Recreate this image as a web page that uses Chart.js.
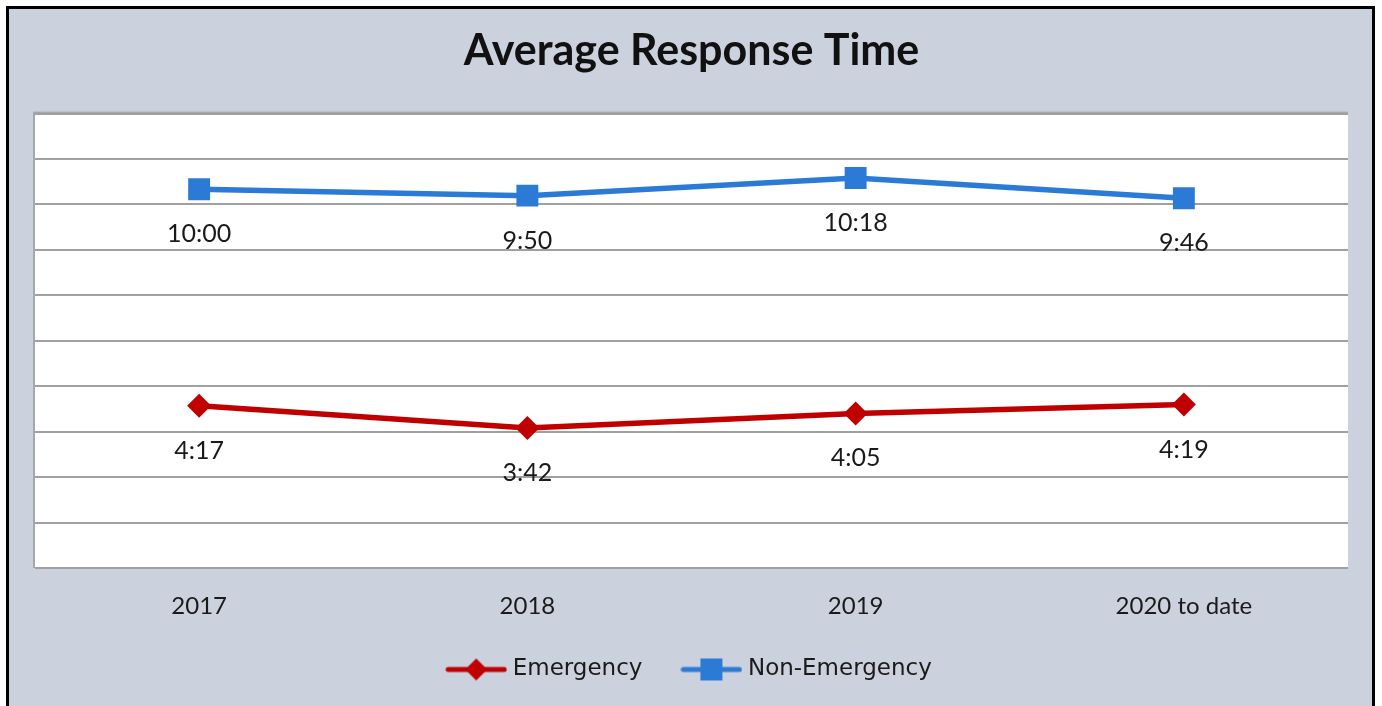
<!DOCTYPE html>
<html>
<head>
<meta charset="utf-8">
<script src="https://cdn.jsdelivr.net/npm/chart.js@4.4.1/dist/chart.umd.min.js"></script>
<style>
  html, body { margin: 0; padding: 0; background: #fff; }
  #wrap { width: 1382px; height: 706px; }
</style>
</head>
<body>
<div id="wrap"><canvas id="chart" width="1382" height="706"></canvas></div>
<script>
// values (m:ss)
const categories = ['2017', '2018', '2019', '2020 to date'];
const emergencyTimes = ['4:17', '3:42', '4:05', '4:19'];
const nonEmergencyTimes = ['10:00', '9:50', '10:18', '9:46'];
const yMin = 0;
const yMax = 720;   // 12:00
const yStep = 72;

const RED = '#c00000';
const BLUE = '#2b7bd6';
const FONT = 'Lato';

function toSeconds(t) {
    const parts = t.split(':');
    return parseInt(parts[0]) * 60 + parseInt(parts[1]);
}

// small line + marker glyph for the legend
function legendIcon(color, shape) {
    const c = document.createElement('canvas');
    c.width = 62;
    c.height = 26;
    const g = c.getContext('2d');
    g.strokeStyle = color;
    g.fillStyle = color;
    g.lineWidth = 5;
    g.lineCap = 'round';
    g.beginPath();
    g.moveTo(3, 13);
    g.lineTo(59, 13);
    g.stroke();
    g.beginPath();
    if (shape === 'diamond') {
        g.moveTo(31, 2); g.lineTo(42, 13); g.lineTo(31, 24); g.lineTo(20, 13);
    } else {
        g.rect(20, 2, 22, 22);
    }
    g.closePath();
    g.fill();
    return c;
}

const icons = [legendIcon(RED, 'diamond'), legendIcon(BLUE, 'square')];

const frame = {
    id: 'frame',
    beforeDraw(chart) {
        const ctx = chart.ctx;
        const a = chart.chartArea;
        ctx.save();
        ctx.fillStyle = '#ffffff';
        ctx.fillRect(0, 0, chart.width, chart.height);
        ctx.fillStyle = '#cbd1dd';
        ctx.fillRect(7, 7, 1367, 710);
        ctx.strokeStyle = '#000';
        ctx.lineWidth = 3;
        ctx.strokeRect(7.5, 7.5, 1366, 710);
        // plot area with a thin shadow on top/left
        ctx.fillStyle = '#a3a7ae';
        ctx.fillRect(a.left - 2, a.top - 2, a.right - a.left + 2, a.bottom - a.top + 2);
        ctx.fillStyle = '#ffffff';
        ctx.fillRect(a.left, a.top, a.right - a.left, a.bottom - a.top);
        ctx.restore();
    }
};

const valueLabels = {
    id: 'valueLabels',
    afterDatasetsDraw(chart) {
        const ctx = chart.ctx;
        ctx.save();
        ctx.font = '25px ' + FONT;
        ctx.fillStyle = '#1a1a1a';
        ctx.textAlign = 'center';
        ctx.textBaseline = 'middle';
        chart.data.datasets.forEach((ds, i) => {
            const meta = chart.getDatasetMeta(i);
            meta.data.forEach((pt, j) => {
                ctx.fillText(ds.labels[j], pt.x, pt.y + 45);
            });
        });
        ctx.restore();
    }
};

const ctx = document.getElementById('chart').getContext('2d');
new Chart(ctx, {
    type: 'line',
    data: {
        labels: categories,
        datasets: [
            {
                label: 'Emergency',
                labels: emergencyTimes,
                data: emergencyTimes.map(toSeconds),
                borderColor: RED,
                backgroundColor: RED,
                borderWidth: 5.5,
                pointStyle: 'rectRot',
                pointRadius: 12,
                pointBorderWidth: 0,
                tension: 0,
                fill: false
            },
            {
                label: 'Non-Emergency',
                labels: nonEmergencyTimes,
                data: nonEmergencyTimes.map(toSeconds),
                borderColor: BLUE,
                backgroundColor: BLUE,
                borderWidth: 5.5,
                pointStyle: 'rect',
                pointRadius: 15.5,
                pointBorderWidth: 0,
                tension: 0,
                fill: false
            }
        ]
    },
    options: {
        responsive: false,
        animation: false,
        devicePixelRatio: 1,
        layout: {
            padding: { left: 35, right: 34, top: 0, bottom: 15 }
        },
        scales: {
            x: {
                offset: true,
                grid: { display: false, drawTicks: false },
                border: { display: false },
                ticks: {
                    padding: 24,
                    color: '#1a1a1a',
                    font: { family: FONT, size: 24 }
                },
                afterFit(scale) {
                    scale.height = 46;
                }
            },
            y: {
                min: yMin,
                max: yMax,
                grid: { color: '#a0a0a0', lineWidth: 2, drawTicks: false },
                border: { display: false },
                ticks: { display: false, stepSize: yStep }
            }
        },
        plugins: {
            title: {
                display: true,
                text: 'Average Response Time',
                color: '#111',
                font: { family: FONT, size: 43, weight: 'bold' },
                padding: { top: 25, bottom: 37 }
            },
            legend: {
                position: 'bottom',
                labels: {
                    usePointStyle: true,
                    pointStyleWidth: 50,
                    padding: 44,
                    color: '#1a1a1a',
                    font: { family: 'DejaVu Sans', size: 23 },
                    generateLabels(chart) {
                        const items = Chart.defaults.plugins.legend.labels.generateLabels(chart);
                        items.forEach((it, i) => { it.pointStyle = icons[i]; });
                        return items;
                    }
                }
            },
            tooltip: { enabled: false }
        }
    },
    plugins: [frame, valueLabels]
});
</script>
</body>
</html>
